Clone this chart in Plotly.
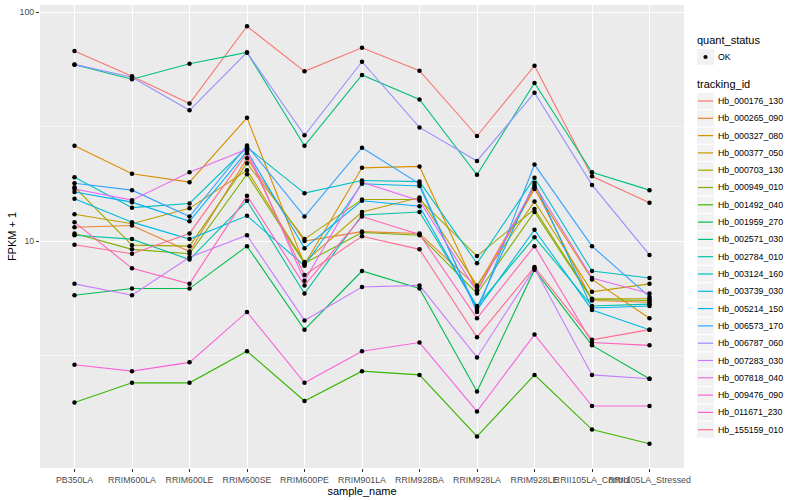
import plotly.graph_objects as go

samples = ["PB350LA", "RRIM600LA", "RRIM600LE", "RRIM600SE", "RRIM600PE", "RRIM901LA",
           "RRIM928BA", "RRIM928LA", "RRIM928LE", "RRII105LA_Control", "RRII105LA_Stressed"]

tracking_ids = ["Hb_000176_130", "Hb_000265_090", "Hb_000327_080", "Hb_000377_050", "Hb_000703_130",
                "Hb_000949_010", "Hb_001492_040", "Hb_001959_270", "Hb_002571_030", "Hb_002784_010",
                "Hb_003124_160", "Hb_003739_030", "Hb_005214_150", "Hb_006573_170", "Hb_006787_060",
                "Hb_007283_030", "Hb_007818_040", "Hb_009476_090", "Hb_011671_230", "Hb_155159_010"]

colors = ["#F8766D", "#EA8331", "#D89000", "#C09B00", "#A3A500", "#7CAE00", "#39B600", "#00BB4E",
          "#00BF7D", "#00C1A3", "#00BFC4", "#00BAE0", "#00B0F6", "#35A2FF", "#9590FF", "#C77CFF",
          "#E76BF3", "#FA62DB", "#FF62BC", "#FF6C91"]

quant_status = ["OK"]

# FPKM + 1 per sample (same order as samples)
hb_000176_130 = [67.7, 52.5, 39.9, 86.9, 55.2, 70.0, 55.6, 28.8, 58.4, 19.2, 14.7]
hb_000265_090 = [11.5, 11.7, 9.0, 23.0, 10.0, 11.0, 10.8, 6.3, 17.2, 5.5, 5.4]
hb_000327_080 = [26.1, 19.7, 18.1, 34.6, 7.9, 20.9, 21.2, 6.1, 16.9, 6.8, 4.6]
hb_000377_050 = [13.1, 11.9, 13.9, 20.4, 8.1, 13.4, 15.5, 6.4, 14.9, 6.0, 6.5]
hb_000703_130 = [17.2, 9.6, 9.5, 21.9, 10.2, 15.2, 15.2, 8.6, 13.8, 5.6, 5.6]
hb_000949_010 = [10.8, 9.2, 8.8, 19.6, 8.0, 10.9, 10.6, 5.9, 13.4, 5.55, 5.5]
hb_001492_040 = [1.97, 2.4, 2.4, 3.3, 2.0, 2.7, 2.6, 1.4, 2.6, 1.5, 1.3]
hb_001959_270 = [5.8, 6.2, 6.2, 9.5, 4.1, 7.4, 6.2, 2.2, 7.5, 3.5, 2.5]
hb_002571_030 = [59.0, 51.0, 59.6, 66.8, 26.1, 53.2, 41.6, 19.5, 49.1, 20.0, 16.7]
hb_002784_010 = [10.6, 10.2, 8.3, 15.0, 5.9, 13.0, 13.4, 5.2, 10.4, 5.2, 5.3]
hb_003124_160 = [19.0, 14.0, 14.6, 25.7, 16.2, 18.4, 18.2, 8.0, 18.9, 7.4, 6.9]
hb_003739_030 = [15.3, 12.1, 10.2, 12.9, 7.8, 17.8, 17.4, 5.0, 11.2, 5.0, 4.1]
hb_005214_150 = [16.4, 14.8, 12.2, 24.7, 9.3, 15.0, 14.2, 5.1, 18.0, 5.1, 5.2]
hb_006573_170 = [17.9, 16.7, 12.8, 26.2, 12.8, 25.6, 17.8, 4.9, 21.6, 9.5, 5.7]
hb_006787_060 = [59.2, 52.0, 37.3, 66.8, 29.0, 60.8, 31.4, 22.4, 44.5, 17.6, 8.7]
hb_007283_030 = [6.5, 5.8, 8.5, 10.6, 4.5, 6.3, 6.4, 3.1, 7.6, 2.6, 2.5]
hb_007818_040 = [16.9, 15.1, 20.0, 25.2, 6.7, 18.1, 15.0, 6.0, 17.6, 6.9, 5.9]
hb_009476_090 = [2.88, 2.7, 2.95, 4.9, 2.4, 3.3, 3.6, 1.8, 3.9, 1.9, 1.9]
hb_011671_230 = [12.1, 7.6, 6.5, 15.8, 6.4, 12.8, 10.7, 4.6, 9.5, 3.6, 3.5]
hb_155159_010 = [9.64, 8.8, 10.8, 24.2, 7.1, 10.5, 9.2, 3.8, 7.7, 3.7, 4.1]

series = [hb_000176_130, hb_000265_090, hb_000327_080, hb_000377_050, hb_000703_130,
          hb_000949_010, hb_001492_040, hb_001959_270, hb_002571_030, hb_002784_010,
          hb_003124_160, hb_003739_030, hb_005214_150, hb_006573_170, hb_006787_060,
          hb_007283_030, hb_007818_040, hb_009476_090, hb_011671_230, hb_155159_010]

# ---- layout geometry (pixels) ----
FW, FH = 800, 500
ML, MR, MT, MB = 40, 116, 5, 32
PW, PH = FW - ML - MR, FH - MT - MB


def pxx(p):
    return (p - ML) / PW


def pxy(p):
    return 1 - (p - MT) / PH


fig = go.Figure()

for tid, col, vals in zip(tracking_ids, colors, series):
    fig.add_trace(go.Scatter(
        x=samples, y=vals, mode="lines", name=tid,
        line=dict(color=col, width=1.1),
        showlegend=False, hoverinfo="skip",
    ))

all_x, all_y = [], []
for vals in series:
    all_x += samples
    all_y += vals
fig.add_trace(go.Scatter(
    x=all_x, y=all_y, mode="markers", name=quant_status[0],
    marker=dict(color="black", size=4.5), showlegend=False,
))

# ---- manual ggplot-like legend ----
shapes, annotations = [], []
KEY_X0, KEY_X1, TEXT_X, TITLE_X = 697, 714, 716.5, 695.5
KEY_H, STEP = 16, 17.3


def key_box(cy):
    shapes.append(dict(type="rect", xref="paper", yref="paper",
                       x0=pxx(KEY_X0), x1=pxx(KEY_X1), y0=pxy(cy + KEY_H / 2), y1=pxy(cy - KEY_H / 2),
                       fillcolor="#F2F2F2", line=dict(width=0), layer="below"))


def label(x, y, text, size, color="black"):
    annotations.append(dict(xref="paper", yref="paper", x=pxx(x), y=pxy(y), text=text,
                            showarrow=False, xanchor="left", yanchor="middle",
                            font=dict(size=size, color=color), borderpad=0))


label(TITLE_X, 40.5, "quant_status", 11)
cy = 57
key_box(cy)
r = 2.1
shapes.append(dict(type="circle", xref="paper", yref="paper",
                   x0=pxx(705.5 - r), x1=pxx(705.5 + r), y0=pxy(cy + r), y1=pxy(cy - r),
                   fillcolor="black", line=dict(width=0)))
label(TEXT_X, cy, quant_status[0], 8.8)

label(TITLE_X, 84, "tracking_id", 11)
for i, (tid, col) in enumerate(zip(tracking_ids, colors)):
    cy = 101 + i * STEP
    key_box(cy)
    shapes.append(dict(type="line", xref="paper", yref="paper",
                       x0=pxx(KEY_X0 + 1), x1=pxx(KEY_X1 - 1), y0=pxy(cy), y1=pxy(cy),
                       line=dict(color=col, width=1.2)))
    label(TEXT_X, cy, tid, 8.8)

fig.update_layout(
    width=FW, height=FH,
    margin=dict(l=ML, r=MR, t=MT, b=MB, autoexpand=False),
    paper_bgcolor="white",
    plot_bgcolor="#EBEBEB",
    font=dict(family="Liberation Sans, Arial, sans-serif", size=9, color="#4D4D4D"),
    showlegend=False,
    shapes=shapes,
    annotations=annotations,
)

fig.update_xaxes(
    type="category", categoryorder="array", categoryarray=samples,
    range=[-0.6, 10.6],
    showgrid=True, gridcolor="white", gridwidth=1.1,
    ticks="outside", ticklen=3, tickcolor="#333333", tickwidth=1,
    tickangle=0,
    tickfont=dict(size=8.8, color="#4D4D4D"),
    title=dict(text="sample_name", font=dict(size=11, color="black"), standoff=0),
    zeroline=False, showline=False, automargin=False,
)

fig.update_yaxes(
    type="log",
    range=[0.008, 2.032],
    tickvals=[10, 100], ticktext=["10", "100"],
    showgrid=True, gridcolor="white", gridwidth=1.1,
    minor=dict(tickvals=[10 ** 0.5, 10 ** 1.5], showgrid=True, gridcolor="#F5F5F5", gridwidth=0.6, ticks=""),
    ticks="outside", ticklen=3, tickcolor="#333333", tickwidth=1,
    tickfont=dict(size=8.8, color="#4D4D4D"),
    title=dict(text="FPKM + 1", font=dict(size=11, color="black"), standoff=0),
    zeroline=False, showline=False, automargin=False,
)

fig.write_html("out.html",
               config={"displayModeBar": False},
               post_script="document.body.style.margin='0';document.body.style.padding='0';")
